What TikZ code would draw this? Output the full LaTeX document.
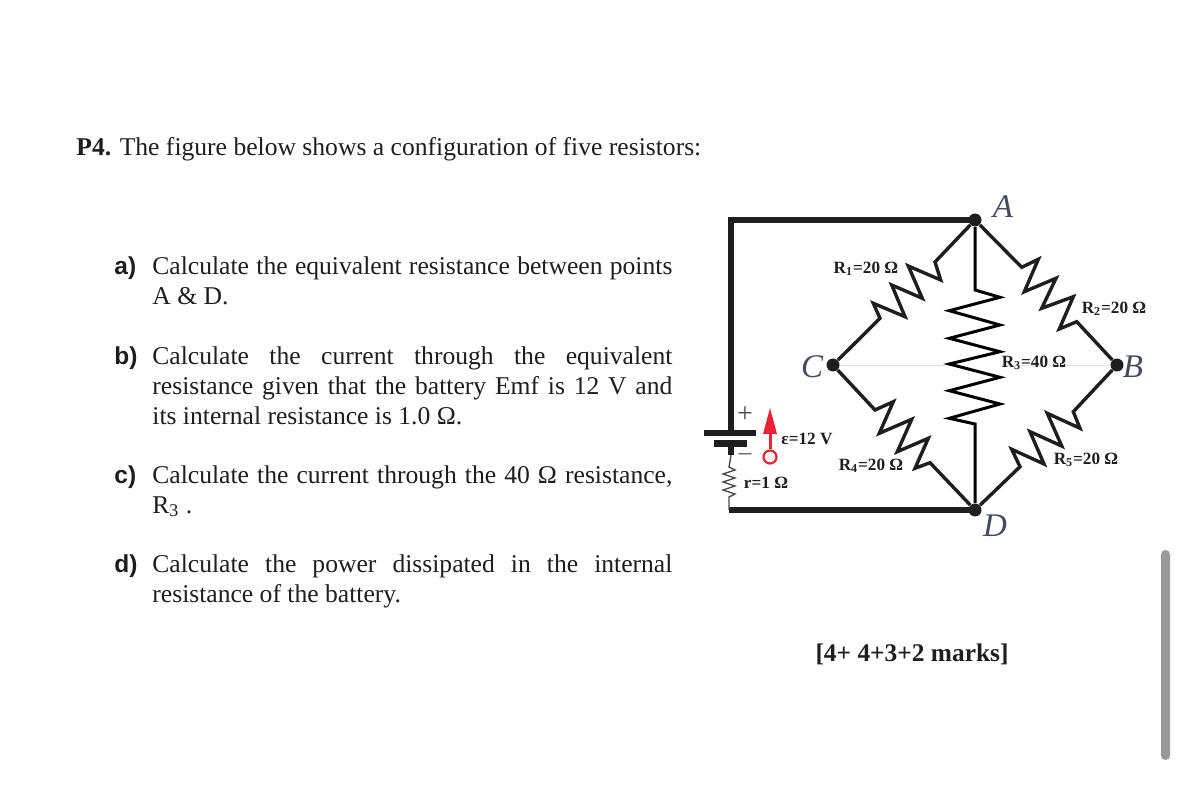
\documentclass[tikz,border=0pt]{standalone}
\usepackage{fontspec}
\setmainfont{Liberation Serif}
\setsansfont{Liberation Sans}
\usetikzlibrary{positioning}
\definecolor{inkblack}{HTML}{1E1E1E}
\definecolor{letterblue}{HTML}{444B5A}
\definecolor{emfred}{HTML}{EE2233}
\def\sub#1{\textsubscript{#1}}

\begin{document}
\begin{tikzpicture}[x=0.5pt, y=-0.5pt, every node/.style={text=inkblack, inner sep=0pt},
    para/.style={anchor=north west, text width=260pt, align=justify, font=\fontsize{12.8}{15}\selectfont},
    tag/.style={anchor=north west, font=\fontsize{12.25}{15}\selectfont\sffamily\bfseries},
    wire/.style={draw=inkblack, line width=1.7pt},
    mainwire/.style={draw=inkblack, line width=2.6pt},
    dot/.style={circle, fill=inkblack, minimum size=6.5pt},
    pointname/.style={text=letterblue, font=\fontsize{16.5}{18}\selectfont\itshape},
    value/.style={font=\fontsize{8.6}{10}\selectfont\bfseries}]
    \useasboundingbox (0, 0) rectangle (1179, 786);

    \node[anchor=north west, font=\fontsize{12.8}{15}\selectfont] (title) at (76, 137) {\textbf{P4.} The figure below shows a configuration of five resistors:};

    \node[para] (parta) at (152, 256) {Calculate the equivalent resistance between points\linebreak A \& D.};
    \node[para] (partb) at (152, 346) {Calculate the current through the equivalent\linebreak resistance given that the battery Emf is 12 V and\linebreak its internal resistance is 1.0 Ω.};
    \node[para] (partc) at (152, 465) {Calculate the current through the 40 Ω resistance,\linebreak R\sub{3} .};
    \node[para] (partd) at (152, 554) {Calculate the power dissipated in the internal\linebreak resistance of the battery.};
    \foreach \part/\y in {a/256, b/346, c/465, d/554} {
        \node[tag] (tag\part) at (114, \y) {\part)};
    }

    \foreach \name/\x/\y in {A/975/220, B/1117/365, C/833/365, D/975/510} {
        \node[dot] (\name) at (\x, \y) {};
    }
    \coordinate (cornerA) at (731, 220);
    \coordinate (cornerD) at (729, 510);
    \coordinate (plus) at (731, 433);
    \coordinate (minus) at (731, 444);
    \coordinate (stub) at (731, 455);

    \draw[black!12, line width=0.4pt] (C) -- (949, 365);
    \draw[black!12, line width=0.4pt] (1000, 365) -- (B);

    \draw[mainwire] (A.center) -- (cornerA) -- (plus);
    \draw[mainwire] (minus) -- (stub);
    \draw[mainwire] (cornerD) -- (D.center);

    \draw[wire] (A) -- (935, 262) -- (940.7, 280) -- (908.3, 266) -- (922.3, 298.3) -- (891.7, 285) -- (905, 316.7) -- (873.3, 303.3) -- (880, 318.3) -- (C);
    \draw[wire] (A) -- (1021.7, 267.3) -- (1038.3, 259.3) -- (1024.3, 291.7) -- (1056, 278.3) -- (1041.7, 308.3) -- (1073.3, 296.7) -- (1059.3, 329) -- (1076.7, 321.7) -- (B);
    \draw[wire] (C) -- (875, 410) -- (893.3, 401.7) -- (879.3, 433.3) -- (911.7, 419.3) -- (897.3, 451.7) -- (928.3, 438.3) -- (915, 468.3) -- (930, 462.7) -- (D);
    \draw[wire] (B) -- (1073.3, 411.7) -- (1080, 428.3) -- (1047.3, 413.3) -- (1061.7, 446) -- (1030, 431.7) -- (1044, 464) -- (1011.7, 449.3) -- (1020, 466.7) -- (D);
    \draw[black, line width=1.5pt] (A) -- (975, 290) -- (1000, 297.3) -- (949.3, 310.7) -- (1000, 325) -- (949.3, 338.3) -- (1000, 351.7) -- (949.3, 364) -- (1000, 377.3) -- (949.3, 390.7) -- (1000, 404) -- (949.3, 418.3) -- (975, 424) -- (D);

    \draw[inkblack, line width=3pt] (704, 433) -- (756, 433);
    \draw[inkblack, line width=3.5pt] (714, 444) -- (747, 444);
    \draw[black!70, line width=0.7pt] (stub) -- (729, 467) -- (735, 470) -- (723, 474) -- (735, 478) -- (723, 482) -- (735, 486) -- (723, 490) -- (735, 494) -- (729, 497) -- (cornerD);
    \node[text=letterblue, font=\fontsize{14}{16}\selectfont] (plussign) at (745, 415) {+};
    \node[text=black!60, font=\fontsize{14}{16}\selectfont] (minussign) at (745, 459) {−};

    \node[circle, draw=emfred, line width=1.1pt, minimum size=6.5pt] (emfstart) at (770, 457) {};
    \coordinate (emftop) at (770, 433);
    \draw[emfred, line width=1.5pt] (emfstart) -- (emftop);
    \fill[emfred] (763, 434) -- (770, 408) -- (777, 434) -- cycle;

    \node[value] (emfvalue) at (807, 439) {ε=12 V};
    \node[value] (rvalue) at (766, 483) {r=1 Ω};
    \node[value] (valueone) at (866, 269) {R\sub{1}=20 Ω};
    \node[value] (valuetwo) at (1114, 309) {R\sub{2}=20 Ω};
    \node[value] (valuethree) at (1034, 363) {R\sub{3}=40 Ω};
    \node[value] (valuefour) at (871, 466) {R\sub{4}=20 Ω};
    \node[value] (valuefive) at (1086, 460) {R\sub{5}=20 Ω};

    \node[pointname] (nameA) at (1003, 207) {A};
    \node[pointname] (nameB) at (1133, 367) {B};
    \node[pointname] (nameC) at (812, 367) {C};
    \node[pointname] (nameD) at (995, 526) {D};

    \node[font=\fontsize{12.7}{15}\selectfont\bfseries] (marks) at (912, 654) {[4+ 4+3+2 marks]};

    \node[fill=black!40, rounded corners=2.2pt, minimum width=4.5pt, minimum height=105pt] (scrollbar) at (1165.5, 655) {};
\end{tikzpicture}
\end{document}
